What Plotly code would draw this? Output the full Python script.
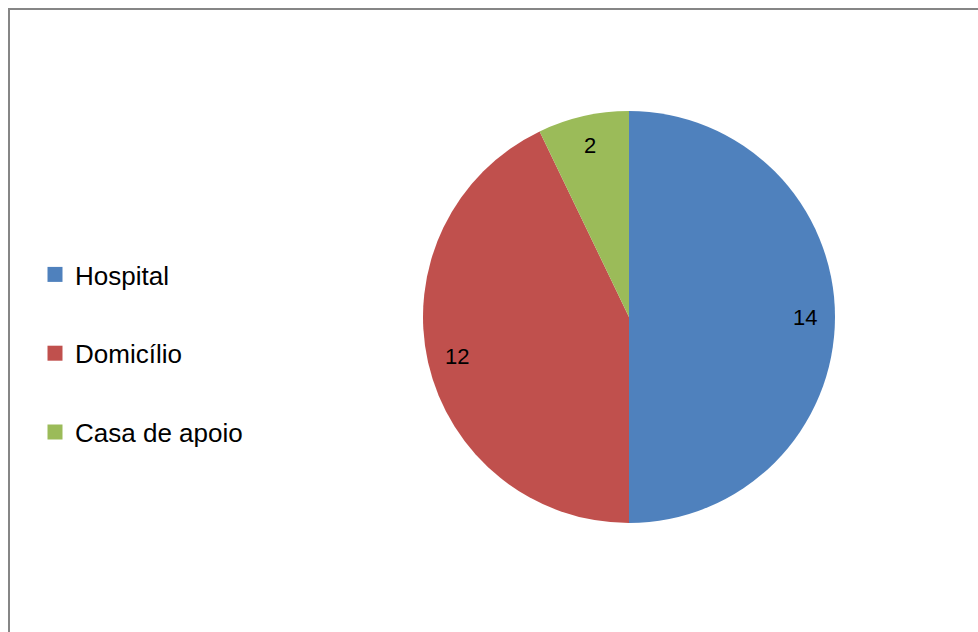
import math
import plotly.graph_objects as go

# Data
locais = ["Hospital", "Domicílio", "Casa de apoio"]
valores = [14, 12, 2]
cores = ["#4F81BD", "#C0504D", "#9BBB59"]

W, H = 978, 632
# pie geometry in pixels (centre and radius)
CX, CY, R = 629, 317, 206
LABEL_FRAC = 0.855

fig = go.Figure()

fig.add_trace(go.Pie(
    labels=locais,
    values=valores,
    sort=False,
    direction="clockwise",
    rotation=0,
    marker=dict(colors=cores, line=dict(width=0)),
    textinfo="none",
    hoverinfo="label+value",
    showlegend=False,
    domain=dict(x=[(CX - R) / W, (CX + R) / W],
                y=[(H - CY - R) / H, (H - CY + R) / H]),
))

# legend entries as separate groups so they can be spaced apart
for i, (nome, cor) in enumerate(zip(locais, cores)):
    fig.add_trace(go.Scatter(
        x=[None], y=[None], mode="markers", name=nome,
        legendgroup=f"g{i}",
        marker=dict(symbol="square", size=15, color=cor),
        showlegend=True,
    ))

# value labels placed along each slice's mid-angle
total = sum(valores)
acum = 0
for v in valores:
    mid = (acum + v / 2) / total * 2 * math.pi
    acum += v
    px = CX + LABEL_FRAC * R * math.sin(mid)
    py = CY - LABEL_FRAC * R * math.cos(mid)
    fig.add_annotation(
        x=px / W, y=1 - py / H, xref="paper", yref="paper",
        text=str(v), showarrow=False,
        font=dict(family="Liberation Sans, Arial, sans-serif", size=22, color="#000000"),
        xanchor="center", yanchor="middle",
    )

# chart frame
fig.add_shape(type="rect", xref="paper", yref="paper",
              x0=9 / W, x1=1.02, y0=-0.02, y1=1 - 9 / H,
              line=dict(color="#868686", width=2), fillcolor="rgba(0,0,0,0)",
              layer="below")

fig.update_layout(
    width=W, height=H,
    margin=dict(l=0, r=0, t=0, b=0),
    paper_bgcolor="white",
    plot_bgcolor="white",
    xaxis=dict(visible=False),
    yaxis=dict(visible=False),
    legend=dict(
        x=35 / W, y=1 - 251 / H, xanchor="left", yanchor="top",
        font=dict(family="Liberation Sans, Arial, sans-serif", size=26, color="#000000"),
        tracegroupgap=42,
        bgcolor="rgba(0,0,0,0)",
        itemclick=False, itemdoubleclick=False,
    ),
)

fig.write_html("out.html")
